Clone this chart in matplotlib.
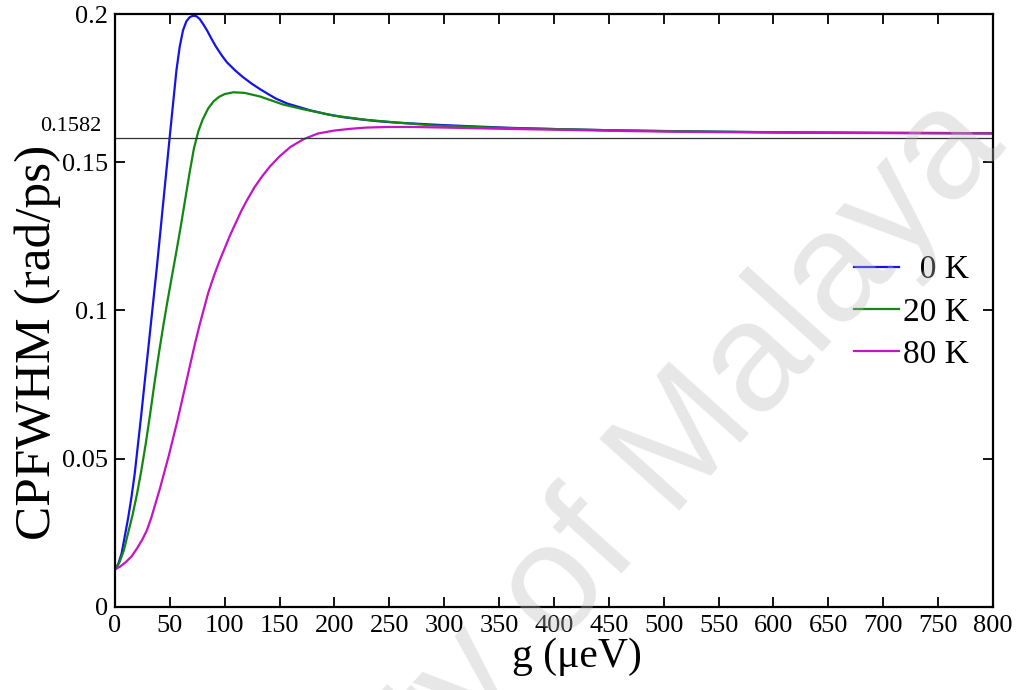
import numpy as np
import matplotlib
matplotlib.use("Agg")
import matplotlib.pyplot as plt
import matplotlib.transforms as mtrans

plt.rcParams['font.family'] = ['Liberation Serif', 'DejaVu Serif']

# values
g_0K = [0, 3, 6, 9, 12, 15, 18, 21, 24, 27, 30, 34, 38, 42, 46, 50, 53, 56, 59, 62,
        65, 68, 71, 74, 77, 80, 84, 88, 92, 97, 102, 110, 117, 125, 132, 140, 147,
        157, 168, 178, 193, 208, 223, 238, 255, 270, 295, 320, 360, 400, 450, 500,
        600, 700, 800]
w_0K = [0.0127, 0.0145, 0.018, 0.024, 0.030, 0.037, 0.045, 0.055, 0.065, 0.0756,
        0.086, 0.100, 0.114, 0.129, 0.144, 0.159, 0.170, 0.181, 0.189, 0.1945,
        0.1975, 0.1989, 0.1994, 0.1993, 0.1984, 0.1968, 0.1944, 0.1916, 0.1890,
        0.1862, 0.1837, 0.1808, 0.1786, 0.1764, 0.1747, 0.1729, 0.1714,
        0.1698, 0.1686, 0.1675, 0.1662, 0.1652, 0.1645, 0.1639, 0.1634, 0.1631,
        0.1626, 0.1622, 0.1616, 0.1612, 0.1608, 0.1605,
        0.1601, 0.1599, 0.1598]

g_20K = [0, 4, 8, 12, 16, 20, 24, 28, 32, 36, 40, 44, 48, 52, 56, 60, 64, 68, 72,
         76, 80, 85, 90, 95, 100, 108, 118, 132, 153, 170, 200, 229, 260, 290, 351,
         450, 550, 650, 800]
w_20K = [0.0127, 0.015, 0.019, 0.025, 0.031, 0.038, 0.046, 0.055, 0.065, 0.0755,
         0.0855, 0.0948, 0.1035, 0.1118, 0.1200, 0.1285, 0.1375, 0.1465, 0.1548,
         0.1605, 0.1645, 0.1682, 0.1706, 0.1721, 0.1730, 0.1736, 0.1734, 0.1722,
         0.1695, 0.1680, 0.1657, 0.1643, 0.1633, 0.1624, 0.1616,
         0.1608, 0.1603, 0.1600, 0.1598]

g_80K = [0, 5, 10, 15, 20, 25, 29, 33, 37, 41, 45, 49, 53, 57, 61, 65, 69, 73, 77,
         81, 85, 90, 95, 100, 105, 110, 115, 120, 127, 134, 141, 150, 160, 172, 185,
         200, 215, 229, 250, 270, 300, 350, 412, 470, 533, 650, 800]
w_80K = [0.0127, 0.0137, 0.0152, 0.017, 0.0197, 0.0228, 0.0258, 0.030, 0.035,
         0.040, 0.0455, 0.051, 0.057, 0.063, 0.0695, 0.0760, 0.0825, 0.089, 0.095,
         0.1005, 0.106, 0.1115, 0.1165, 0.121, 0.1255, 0.1295, 0.1335, 0.137,
         0.1415, 0.1452, 0.1485, 0.152, 0.1552, 0.1578, 0.1597,
         0.1607, 0.1613, 0.1617, 0.1619, 0.1619, 0.1617, 0.1613, 0.1609, 0.1605,
         0.1602, 0.1599, 0.1597]

ref_level = 0.1582
xticks = list(range(0, 801, 50))
yticks = [0, 0.05, 0.1, 0.15, 0.2]
ytick_labels = ['0', '0.05', '0.1', '0.15', '0.2']

fig = plt.figure(figsize=(10.22, 6.90), dpi=100)
ax = fig.add_axes([0.1125, 0.1203, 0.8591, 0.8594])

ax.plot(g_0K, w_0K, color='#1414e6', lw=1.6, label='  0 K')
ax.plot(g_20K, w_20K, color='#118811', lw=1.6, label='20 K')
ax.plot(g_80K, w_80K, color='#c414c4', lw=1.6, label='80 K')
ax.axhline(ref_level, color='#333333', lw=0.9)

trans = mtrans.blended_transform_factory(ax.transAxes, ax.transData)
ax.text(-0.016, ref_level + 0.0008, '0.1582', transform=trans, ha='right', va='bottom',
        fontsize=16)

ax.set_xlim(0, 800)
ax.set_ylim(0, 0.2)
ax.set_xticks(xticks)
ax.set_xticklabels([str(v) for v in xticks])
ax.set_yticks(yticks)
ax.set_yticklabels(ytick_labels)
ax.tick_params(direction='in', length=7, width=1.3, top=True, right=True,
               labelsize=19, pad=5)
ax.tick_params(axis='x', pad=6)
for s in ax.spines.values():
    s.set_linewidth(1.6)

ax.set_xlabel('g (μeV)', fontsize=30)
ax.xaxis.set_label_coords(0.526, -0.052)
ax.set_ylabel('CPFWHM (rad/ps)', fontsize=37)
ax.yaxis.set_label_coords(-0.061, 0.447)

leg = ax.legend(loc='center right', bbox_to_anchor=(0.972, 0.497), frameon=False,
                fontsize=24, handlelength=1.35, handletextpad=0.1, labelspacing=0.35,
                borderpad=0, borderaxespad=0)

fig.text(0.498, 0.072, 'University of Malaya', fontsize=112, family='Liberation Sans',
         rotation=48, ha='center', va='center', color='#bbbbbb', alpha=0.35, zorder=10)

fig.savefig('out.png', dpi=100)
